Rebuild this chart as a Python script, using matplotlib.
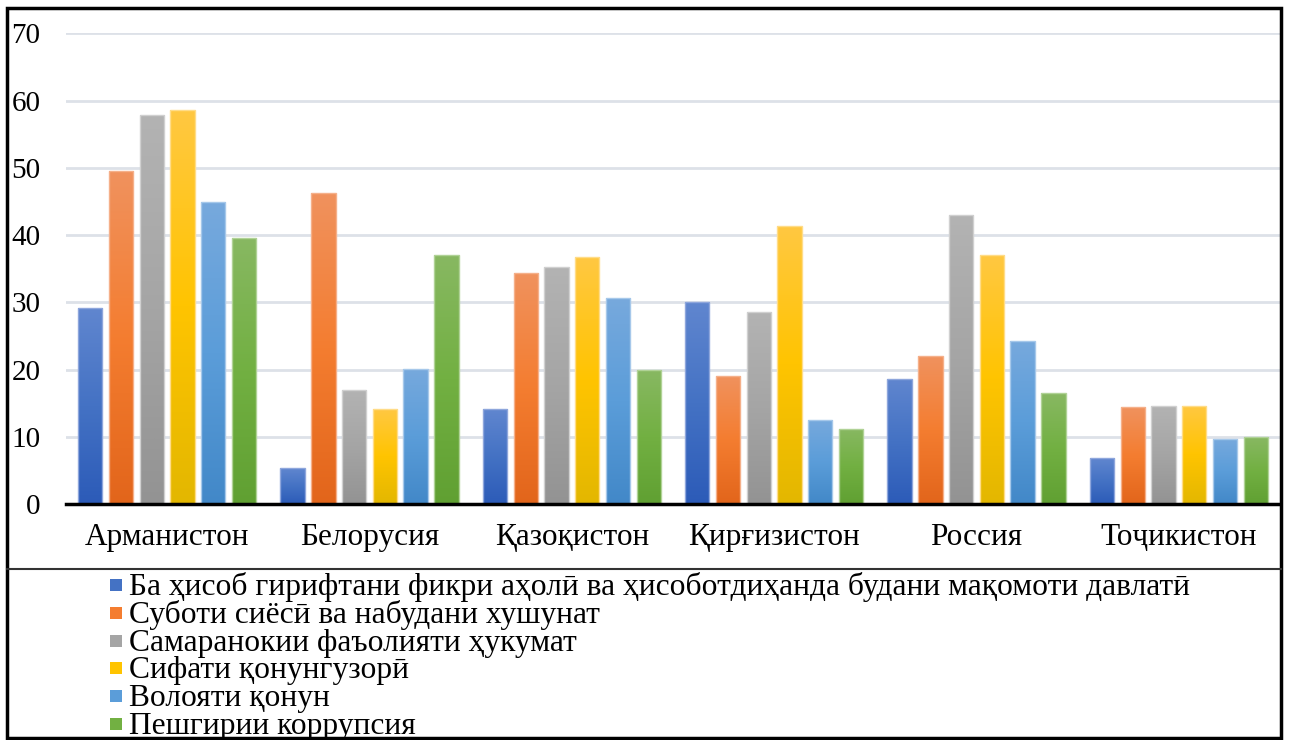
import numpy as np
import matplotlib
matplotlib.use('Agg')
from matplotlib import pyplot as plt
from matplotlib.colors import LinearSegmentedColormap
from matplotlib.patches import Rectangle
from matplotlib.lines import Line2D

plt.rcParams['font.family'] = ['Liberation Serif', 'DejaVu Serif']

countries = ['Арманистон', 'Белорусия', 'Қазоқистон', 'Қирғизистон', 'Россия', 'Тоҷикистон']
series_names = [
    'Ба ҳисоб гирифтани фикри аҳолӣ ва ҳисоботдиҳанда будани мақомоти давлатӣ',
    'Суботи сиёсӣ ва набудани хушунат',
    'Самаранокии фаъолияти ҳукумат',
    'Сифати қонунгузорӣ',
    'Волояти қонун',
    'Пешгирии коррупсия',
]
accountability = [29.1, 5.3, 14.1, 30.0, 18.6, 6.8]
stability = [49.5, 46.3, 34.4, 19.1, 22.0, 14.4]
effectiveness = [57.9, 17.0, 35.2, 28.5, 43.0, 14.6]
regulatory = [58.6, 14.1, 36.7, 41.4, 37.1, 14.6]
rule_of_law = [44.9, 20.1, 30.6, 12.5, 24.3, 9.7]
corruption = [39.6, 37.1, 19.9, 11.2, 16.5, 9.9]
values = [accountability, stability, effectiveness, regulatory, rule_of_law, corruption]

# (bottom, middle, top) gradient stops, Office-style fills
grads = [
    ('#2c5bb8', '#4472c4', '#6086cf'),
    ('#e2651b', '#f47d30', '#f0925e'),
    ('#939393', '#a5a5a5', '#b3b3b3'),
    ('#e3b700', '#ffc400', '#ffc842'),
    ('#4288c8', '#5b9dd9', '#77a9dd'),
    ('#60a032', '#72b042', '#88b862'),
]
edges = ['#8ea6dc', '#f5b08a', '#d0d0d0', '#ffdc88', '#a6c8ea', '#b0d296']

W, H = 1291, 740
fig = plt.figure(figsize=(W / 100, H / 100), dpi=100)
ax = fig.add_axes([66 / W, (H - 504) / H, (1280 - 66) / W, (504 - 33.3) / H])

x = np.arange(len(countries))
pitch = 0.152
width = 0.12
grad_img = np.linspace(0, 1, 256).reshape(-1, 1)

for i, vals in enumerate(values):
    cmap = LinearSegmentedColormap.from_list(f's{i}', list(grads[i]))
    offs = (i - 2.5) * pitch
    bars = ax.bar(x + offs, vals, width, facecolor='none', edgecolor=edges[i],
                  linewidth=1.0, zorder=3)
    for b in bars:
        x0, y0 = b.get_x(), b.get_y()
        im = ax.imshow(grad_img, extent=[x0, x0 + b.get_width(), y0, y0 + b.get_height()],
                       origin='lower', aspect='auto', cmap=cmap, zorder=2,
                       interpolation='bilinear')
        im.set_clip_path(b)

ax.set_xlim(-0.5, len(countries) - 0.5)
ax.set_ylim(0, 70)
ax.set_yticks(range(0, 71, 10))
ax.set_xticks(x)
ax.set_xticklabels(countries, fontsize=22.5)
ax.yaxis.grid(True, color='#dde1e8', linewidth=2.0, zorder=0)
ax.set_axisbelow(True)
ax.tick_params(axis='both', length=0)
ax.tick_params(axis='y', pad=18.5, labelsize=21)
ax.tick_params(axis='x', pad=14)
for s in ['top', 'right', 'left']:
    ax.spines[s].set_visible(False)
ax.spines['bottom'].set_linewidth(2.5)
ax.spines['bottom'].set_color('black')
ax.spines['bottom'].set_zorder(4)

# legend drawn by hand, rows ~27.8 px apart
for k, name in enumerate(series_names):
    yc = 585 + k * 27.8
    fig.add_artist(Rectangle((110 / W, (H - yc - 6) / H), 12 / W, 12 / H,
                             transform=fig.transFigure, facecolor=grads[k][1],
                             edgecolor='none'))
    fig.text(129 / W, (H - (yc + 10)) / H, name, fontsize=22.7, ha='left', va='baseline')

# outer frame and separator
fig.add_artist(Rectangle((7 / W, 2 / H), (1281 - 7) / W, (H - 8 - 2) / H,
                         transform=fig.transFigure, fill=False,
                         edgecolor='black', linewidth=2.5))
fig.add_artist(Line2D([7 / W, 1281 / W], [(H - 569) / H] * 2,
                      transform=fig.transFigure, color='#333333', linewidth=1.5))

fig.savefig('out.png', dpi=100)
plt.close(fig)
